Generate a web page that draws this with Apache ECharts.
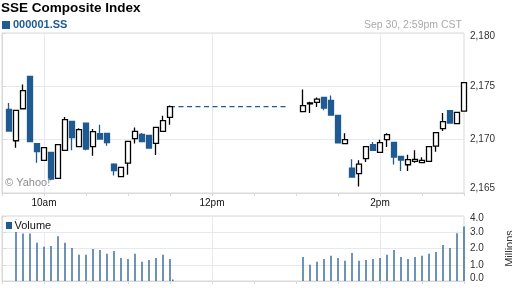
<!DOCTYPE html>
<html><head><meta charset="utf-8">
<script src="https://cdn.jsdelivr.net/npm/echarts@6/dist/echarts.min.js"></script>
<style>html,body{margin:0;padding:0;background:#fff}#c{width:512px;height:288px}</style>
</head><body><div id="c"></div>
<script>
// ---- data ----
const candleTimes = ['09:35','09:40','09:45','09:50','09:55','10:00','10:05','10:10','10:15','10:20','10:25','10:30',
  '10:35','10:40','10:45','10:50','10:55','11:00','11:05','11:10','11:15','11:20','11:25','11:30',
  '13:05','13:10','13:15','13:20','13:25','13:30','13:35','13:40','13:45','13:50','13:55','14:00',
  '14:05','14:10','14:15','14:20','14:25','14:30','14:35','14:40','14:45','14:50','14:55','15:00'];
const opens  = [2172.84,2169.90,2172.90,2175.93,2169.63,2168.06,2168.81,2166.37,2169.00,2171.72,2169.34,2171.56,
  2169.34,2170.56,2170.59,2167.71,2166.53,2167.81,2170.09,2170.50,2170.40,2169.65,2170.78,2172.09,
  2172.62,2173.35,2173.50,2173.96,2173.68,2172.28,2169.63,2167.34,2166.81,2168.22,2169.53,2168.81,
  2170.00,2169.75,2168.43,2167.65,2167.97,2167.84,2167.97,2169.40,2171.03,2172.72,2171.50,2172.68];
const closes = [2170.81,2172.74,2174.59,2169.81,2168.88,2169.25,2166.31,2169.53,2171.87,2170.19,2170.94,2169.12,
  2170.75,2170.06,2169.72,2167.09,2167.40,2169.84,2170.78,2169.81,2169.21,2171.15,2171.78,2173.09,
  2173.19,2173.45,2173.80,2172.96,2172.31,2169.69,2170.00,2166.50,2167.71,2169.34,2169.00,2169.72,
  2170.47,2168.37,2168.09,2168.12,2168.15,2168.06,2169.34,2170.66,2171.69,2171.56,2172.56,2175.34];
const lows   = [2170.81,2169.25,2172.90,2169.81,2167.84,2168.06,2166.20,2166.37,2169.00,2169.00,2169.34,2169.00,
  2168.50,2170.06,2169.44,2166.63,2166.53,2166.72,2169.63,2169.81,2169.21,2168.56,2170.78,2171.41,
  2172.62,2172.50,2173.06,2172.75,2172.31,2169.69,2169.63,2166.50,2165.62,2167.90,2169.00,2168.81,
  2169.31,2167.68,2167.06,2167.06,2167.84,2167.84,2167.97,2168.87,2170.81,2171.56,2171.50,2172.68];
const highs  = [2173.43,2172.74,2175.18,2175.93,2169.63,2169.25,2168.81,2169.53,2172.12,2171.72,2171.06,2171.56,
  2171.00,2171.41,2170.59,2167.80,2167.40,2169.84,2171.15,2170.62,2170.40,2171.15,2172.25,2173.21,
  2174.71,2173.56,2173.96,2173.96,2174.15,2172.28,2170.59,2168.16,2168.06,2169.34,2169.78,2170.00,
  2170.59,2169.75,2168.43,2168.59,2169.00,2168.34,2169.34,2170.66,2172.50,2172.72,2172.56,2175.34];
const volumeTimes = ['09:40','09:45','09:50','09:55','10:00','10:05','10:10','10:15','10:20','10:25','10:30',
  '10:35','10:40','10:45','10:50','10:55','11:00','11:05','11:10','11:15','11:20','11:25','11:30','11:32',
  '13:05','13:10','13:15','13:20','13:25','13:30','13:35','13:40','13:45','13:50','13:55','14:00',
  '14:05','14:10','14:15','14:20','14:25','14:30','14:35','14:40','14:45','14:50','14:55','15:00'];
const volumes = [3.80,2.92,2.92,2.35,2.11,2.15,2.76,2.35,2.03,1.61,1.61,
  1.97,1.91,1.67,1.85,1.42,1.36,1.67,1.18,1.30,1.42,1.61,1.36,0.10,
  1.48,1.00,1.18,1.36,1.55,1.42,1.24,1.73,1.24,1.30,1.36,1.42,
  1.61,1.91,1.48,1.36,1.48,1.55,1.67,1.79,2.21,2.03,2.94,3.36];
const lunchGapTimes = ['11:30','12:55'];
const xTickTimes = ['10:00','12:00','14:00'];
const xTickLabels = ['10am','12pm','2pm'];
const priceTicks = [2165, 2170, 2175, 2180];
const volumeTicks = [0, 1, 2, 3, 4];
const titleText = 'SSE Composite Index';
const symbolText = '000001.SS';
const stampText = 'Sep 30, 2:59pm CST';

// ---- helpers ----
const OPEN_MIN = 9*60+30;
const toMin = s => { const [h,m] = s.split(':').map(Number); return h*60+m-OPEN_MIN; };
const BLUE = '#1f5a92', GRID = '#e6e9f0', BORDER = '#d9d9d9', LBL = '#333';
const FONT = 'Liberation Sans, Arial, sans-serif';
const candleData = candleTimes.map((t,i)=>[toMin(t), opens[i], closes[i], lows[i], highs[i]]);
const volData = volumeTimes.map((t,i)=>[toMin(t), volumes[i]]);
const lastClose = closes[candleTimes.indexOf(lunchGapTimes[0])];
const tickMins = xTickTimes.map(toMin);
const fmtPrice = v => String(v).replace(/\B(?=(\d{3})+(?!\d))/g, ',');
const xLabel = v => { const k = tickMins.indexOf(v); return k >= 0 ? xTickLabels[k] : ''; };
const vLines = tickMins.map(m => ({xAxis: m}));

const chart = echarts.init(document.getElementById('c'), null, {renderer:'canvas'});
const xBase = {
  type:'value', min:0, max:330, interval:30,
  axisLine:{show:true, lineStyle:{color:BORDER}},
  axisTick:{show:true, length:3, lineStyle:{color:BORDER}},
  splitLine:{show:false}
};
chart.setOption({
  animation:false,
  textStyle:{fontFamily:FONT},
  title:{text:titleText, left:1, top:1, padding:0,
    textStyle:{fontSize:13.5, fontWeight:'bold', color:'#000', fontFamily:FONT}},
  graphic:[
    {type:'rect', shape:{x:2, y:21, width:8, height:8}, style:{fill:BLUE}},
    {type:'text', x:13, y:25, style:{text:symbolText, fill:BLUE, font:'bold 11px '+FONT, verticalAlign:'middle'}},
    {type:'text', x:462, y:25, style:{text:stampText, fill:'#aaa', font:'10.5px '+FONT, align:'right', verticalAlign:'middle'}},
    {type:'text', x:5, y:183, z:50, style:{text:'\u00a9 Yahoo!', fill:'#8c8c8c', font:'11px '+FONT, verticalAlign:'middle'}},
    {type:'group', z:100, children:[
      {type:'rect', shape:{x:4, y:219.5, width:54, height:12.5}, style:{fill:'#fff'}, z:100},
      {type:'rect', shape:{x:6, y:222, width:6, height:7}, style:{fill:BLUE}, z:101},
      {type:'text', x:14.5, y:226, z:101, style:{text:'Volume', fill:'#111', font:'11px '+FONT, verticalAlign:'middle'}}
    ]}
  ],
  grid:[
    {left:2, top:33, width:462, height:160, show:true, borderColor:BORDER, borderWidth:1, containLabel:false, outerBoundsMode:'none'},
    {left:2, top:216, width:462, height:65, show:true, borderColor:BORDER, borderWidth:1, containLabel:false, outerBoundsMode:'none'}
  ],
  xAxis:[
    Object.assign({}, xBase, {gridIndex:0,
      axisLabel:{show:true, formatter:xLabel, margin:5, fontSize:10, color:'#111', fontFamily:FONT}}),
    Object.assign({}, xBase, {gridIndex:1, axisLabel:{show:false}})
  ],
  yAxis:[
    {type:'value', gridIndex:0, position:'right', min:priceTicks[0], max:priceTicks[priceTicks.length-1], interval:5,
      axisLine:{show:true, lineStyle:{color:BORDER}},
      axisTick:{show:true, length:4, lineStyle:{color:BORDER}},
      splitLine:{show:true, lineStyle:{color:GRID, width:1}},
      axisLabel:{margin:6, fontSize:10, color:LBL, fontFamily:FONT,
        formatter:v => v===priceTicks[priceTicks.length-1] ? '{t|'+fmtPrice(v)+'}' : (v===priceTicks[0] ? '{b|'+fmtPrice(v)+'}' : fmtPrice(v)),
        rich:{t:{fontSize:10, color:LBL, fontFamily:FONT, padding:[6,0,0,0]}, b:{fontSize:10, color:LBL, fontFamily:FONT, padding:[0,0,9,0]}}}
    },
    {type:'value', gridIndex:1, position:'right', min:volumeTicks[0], max:volumeTicks[volumeTicks.length-1], interval:1,
      name:'Millions', nameLocation:'middle', nameRotate:90, nameGap:40.5,
      nameTextStyle:{fontSize:11, color:LBL, fontFamily:FONT},
      axisLine:{show:true, lineStyle:{color:BORDER}},
      axisTick:{show:true, length:4, lineStyle:{color:BORDER}},
      splitLine:{show:true, lineStyle:{color:GRID, width:1}},
      axisLabel:{margin:6, fontSize:10, color:LBL, fontFamily:FONT,
        formatter:v => v===volumeTicks[volumeTicks.length-1] ? '{t|'+v.toFixed(1)+'}' : (v===volumeTicks[0] ? '{b|'+v.toFixed(1)+'}' : v.toFixed(1)),
        rich:{t:{fontSize:10, color:LBL, fontFamily:FONT, padding:[5,0,0,0]}, b:{fontSize:10, color:LBL, fontFamily:FONT, padding:[0,0,5,0]}}}
    }
  ],
  series:[
    {type:'candlestick', name:symbolText, xAxisIndex:0, yAxisIndex:0, z:3,
      data:candleData, encode:{x:0, y:[1,2,3,4]}, barWidth:5,
      itemStyle:{color:'#fff', color0:BLUE, borderColor:'#000', borderColor0:BLUE, borderWidth:1.3},
      markLine:{silent:true, symbol:'none', z:1, label:{show:false}, animation:false,
        lineStyle:{color:GRID, type:'solid', width:1}, data:vLines}
    },
    {type:'line', xAxisIndex:0, yAxisIndex:0, z:2, symbol:'none', silent:true,
      data:lunchGapTimes.map(t=>[toMin(t), lastClose]),
      lineStyle:{color:BLUE, width:1.2, type:[5,3.5]}},
    {type:'bar', name:'Volume', xAxisIndex:1, yAxisIndex:1, z:3, data:volData, barWidth:1.3,
      itemStyle:{color:BLUE},
      markLine:{silent:true, symbol:'none', z:1, label:{show:false}, animation:false,
        lineStyle:{color:GRID, type:'solid', width:1}, data:vLines}
    }
  ]
});
</script></body></html>
